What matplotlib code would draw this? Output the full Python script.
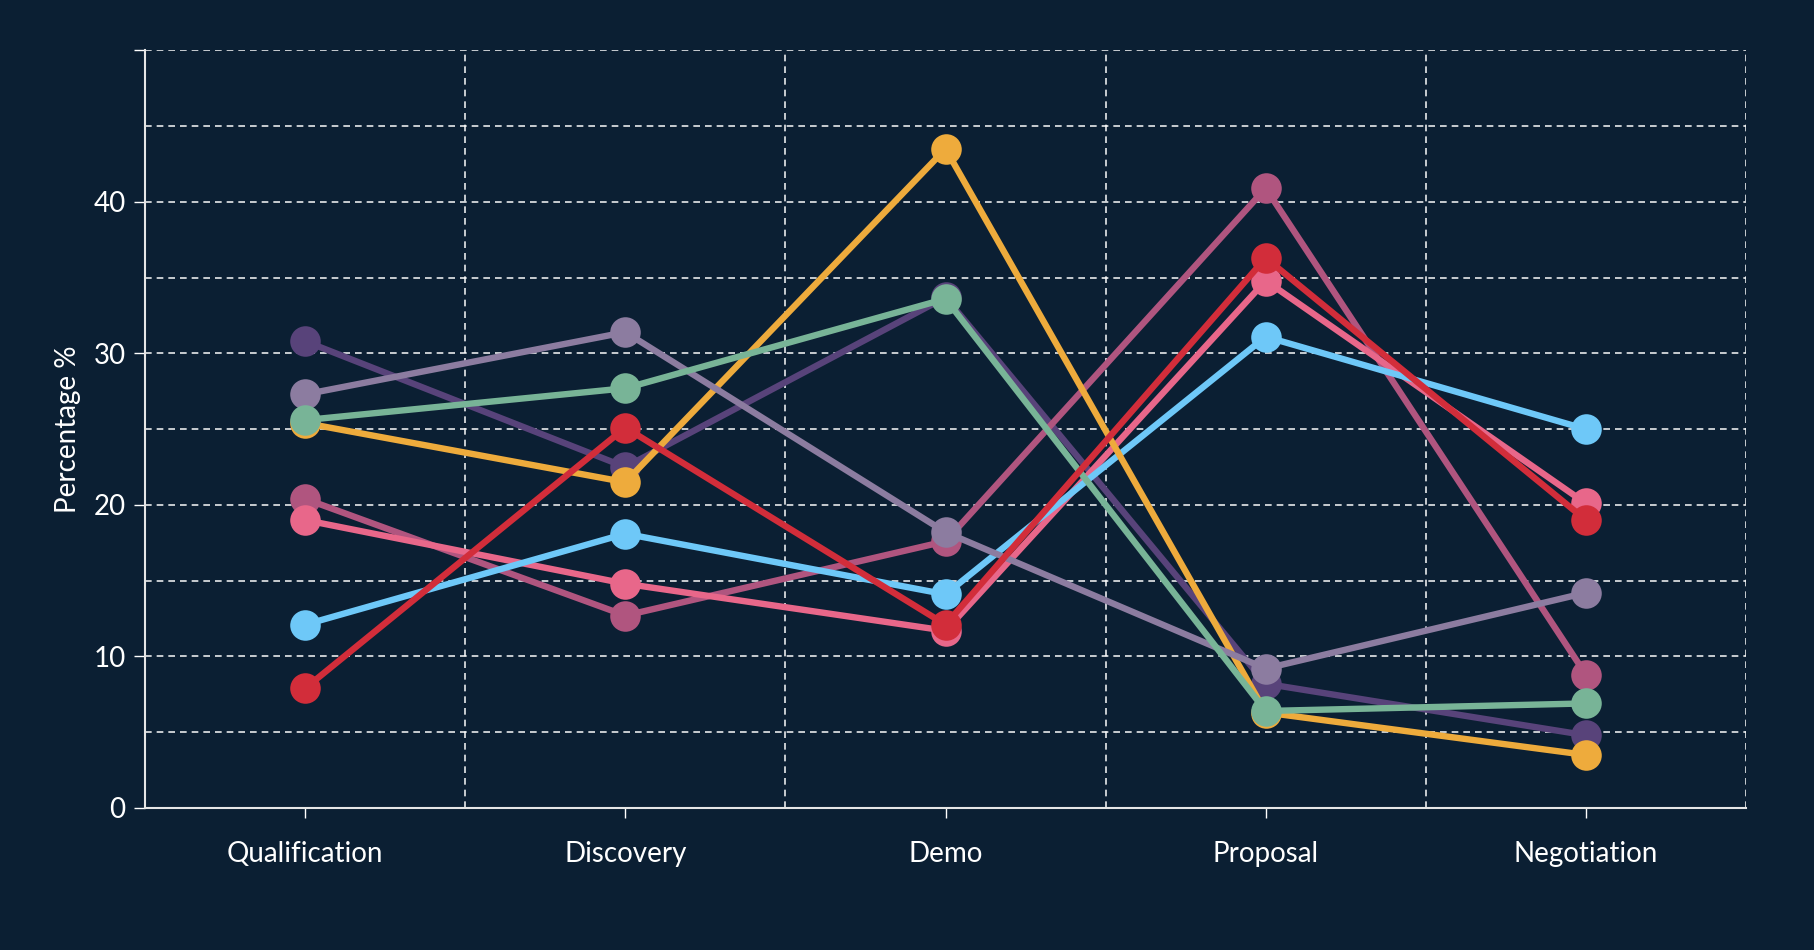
import numpy as np
import matplotlib.pyplot as plt
from matplotlib.ticker import FixedLocator

# stages along the x axis
stages = ['Qualification', 'Discovery', 'Demo', 'Proposal', 'Negotiation']

# percentage values per series
dark_purple = [30.8, 22.5, 33.7, 8.2, 4.8]
magenta = [20.4, 12.7, 17.6, 40.9, 8.8]
pink = [19.0, 14.8, 11.7, 34.8, 20.1]
light_blue = [12.1, 18.1, 14.1, 31.1, 25.0]
orange = [25.4, 21.5, 43.5, 6.3, 3.5]
lavender = [27.3, 31.4, 18.2, 9.2, 14.2]
green = [25.6, 27.7, 33.6, 6.4, 6.9]
red = [7.9, 25.1, 12.1, 36.3, 19.0]

series = [
    (dark_purple, '#58437a'),
    (magenta, '#b0557f'),
    (pink, '#e8678a'),
    (light_blue, '#6ec8f8'),
    (orange, '#eeab3c'),
    (lavender, '#8c7ca0'),
    (green, '#78b497'),
    (red, '#d22d3a'),
]

BG = '#0b1f33'
plt.rcParams['font.family'] = ['Lato', 'DejaVu Sans']

fig = plt.figure(figsize=(18.14, 9.5), dpi=100, facecolor=BG)
ax = fig.add_axes([0.080, 0.1495, 0.8825, 0.7975])
ax.set_facecolor(BG)

x = np.arange(len(stages))
for vals, col in series:
    ax.plot(x, vals, color=col, linewidth=4.6, marker='o', markersize=22,
            markeredgewidth=0, solid_capstyle='round', zorder=3)

ax.set_xlim(-0.5, len(stages) - 0.5)
ax.set_ylim(0, 50)

ax.set_xticks(x)
ax.set_xticklabels(stages)
ax.xaxis.set_minor_locator(FixedLocator(np.arange(0.5, len(stages), 1.0)))
ax.set_yticks([0, 10, 20, 30, 40, 50])
ax.set_yticklabels(['0', '10', '20', '30', '40', ''])
ax.yaxis.set_minor_locator(FixedLocator([5, 15, 25, 35, 45]))

ax.tick_params(axis='x', which='major', colors='white', labelsize=20, length=7,
               width=1, pad=17)
ax.tick_params(axis='x', which='minor', length=0)
ax.tick_params(axis='y', which='major', colors='white', labelsize=20, length=8,
               width=1, pad=6)
ax.tick_params(axis='y', which='minor', length=0)

grid_style = dict(color='white', linestyle=(0, (4, 3)), linewidth=1.2, alpha=0.9)
ax.grid(True, which='both', axis='y', **grid_style)
ax.grid(True, which='minor', axis='x', **grid_style)
ax.grid(False, which='major', axis='x')
ax.set_axisbelow(True)

for side in ['top', 'right']:
    ax.spines[side].set_visible(False)
for side in ['left', 'bottom']:
    ax.spines[side].set_color('#e6e6e6')
    ax.spines[side].set_linewidth(1.5)

ax.set_ylabel('Percentage %', color='white', fontsize=20, labelpad=9)

fig.savefig('out.png', dpi=100, facecolor=BG)
